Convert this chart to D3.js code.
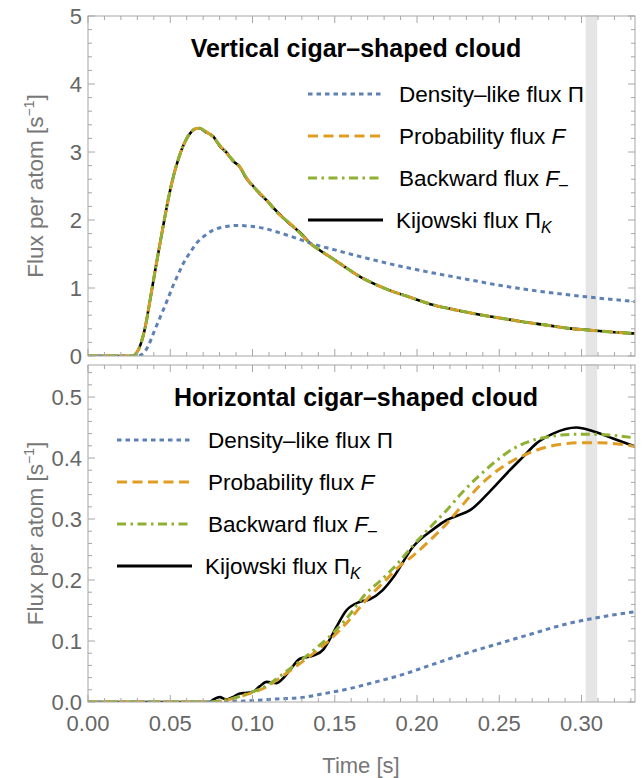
<!DOCTYPE html>
<html><head><meta charset="utf-8">
<script src="https://cdn.jsdelivr.net/npm/d3@7"></script>
<style>
body{margin:0;background:#fff;}
svg{font-family:"Liberation Sans",Arial,sans-serif;}
</style></head>
<body><svg id="c" width="643" height="778"></svg>
<script>
// ---------- DATA ----------
const xTickLabels = ["0.00","0.05","0.10","0.15","0.20","0.25","0.30"];
const xTickValues = [0,0.05,0.10,0.15,0.20,0.25,0.30];
const topYTicks = [0,1,2,3,4,5];
const botYTicks = [0,0.1,0.2,0.3,0.4,0.5];
const botYTickLabels = ["0.0","0.1","0.2","0.3","0.4","0.5"];
const seriesNames = ["Density\u2013like flux \u03A0","Probability flux F","Backward flux F\u208B","Kijowski flux \u03A0K"];
const bandRange = [0.3025, 0.3095];

// Top panel (vertical cigar)
const topT = [0,0.020,0.027,0.029,0.031,0.033,0.035,0.037,0.039,0.041,0.043,0.045,0.047,0.049,0.051,0.053,0.055,0.057,0.059,0.061,0.063,0.065,0.068,0.071,0.0761,0.080,0.0843,0.088,0.0923,0.096,0.1004,0.105,0.1086,0.1146,0.1227,0.130,0.1349,0.140,0.147,0.155,0.165,0.175,0.185,0.195,0.210,0.225,0.240,0.250,0.265,0.280,0.291,0.305,0.320,0.3325];
const topF  = [0,0,0,0.03,0.11,0.25,0.45,0.72,1.00,1.28,1.55,1.82,2.08,2.33,2.55,2.74,2.90,3.04,3.15,3.24,3.30,3.34,3.35,3.31,3.22,3.10,2.98,2.88,2.78,2.63,2.49,2.38,2.29,2.12,1.95,1.78,1.66,1.57,1.46,1.33,1.17,1.05,0.95,0.87,0.75,0.67,0.60,0.56,0.50,0.45,0.41,0.38,0.35,0.33];
const topFm = [0,0,0,0.03,0.11,0.25,0.45,0.72,1.00,1.28,1.55,1.82,2.08,2.33,2.55,2.74,2.90,3.04,3.15,3.24,3.30,3.34,3.35,3.31,3.22,3.10,2.98,2.88,2.78,2.63,2.49,2.38,2.29,2.12,1.95,1.78,1.66,1.57,1.46,1.33,1.17,1.05,0.95,0.87,0.75,0.67,0.60,0.56,0.50,0.45,0.41,0.38,0.35,0.33];
const topK  = [0,0,0,0.03,0.11,0.25,0.45,0.72,1.00,1.28,1.55,1.82,2.08,2.33,2.55,2.74,2.90,3.04,3.15,3.24,3.30,3.34,3.35,3.30,3.23,3.09,2.99,2.87,2.78,2.62,2.50,2.37,2.29,2.13,1.94,1.79,1.66,1.57,1.46,1.33,1.17,1.05,0.95,0.87,0.75,0.67,0.60,0.56,0.50,0.45,0.41,0.38,0.35,0.33];
const topPiT = [0,0.029,0.031,0.0336,0.0367,0.0397,0.043,0.0458,0.049,0.0518,0.055,0.0579,0.062,0.066,0.071,0.0761,0.083,0.0903,0.098,0.1065,0.114,0.1207,0.128,0.135,0.150,0.169,0.190,0.210,0.230,0.250,0.275,0.303,0.3325];
const topPi  = [0,0,0.005,0.04,0.15,0.33,0.52,0.68,0.87,1.04,1.21,1.36,1.52,1.66,1.77,1.85,1.90,1.92,1.91,1.88,1.83,1.78,1.72,1.66,1.56,1.44,1.32,1.22,1.13,1.04,0.95,0.87,0.80];

// Bottom panel (horizontal cigar)
const botPiT = [0,0.080,0.090,0.104,0.115,0.129,0.142,0.159,0.175,0.190,0.210,0.230,0.250,0.270,0.291,0.311,0.3325];
const botPi  = [0,0,0.001,0.003,0.005,0.007,0.013,0.022,0.033,0.044,0.062,0.080,0.096,0.112,0.128,0.139,0.148];
const botFT = [0,0.074,0.080,0.088,0.095,0.1086,0.118,0.1288,0.139,0.149,0.159,0.169,0.180,0.190,0.1977,0.2078,0.2179,0.228,0.2382,0.248,0.2584,0.268,0.2787,0.289,0.2989,0.309,0.3191,0.3325];
const botF  = [0,0,0.001,0.0055,0.011,0.025,0.042,0.063,0.084,0.107,0.135,0.167,0.197,0.224,0.240,0.265,0.292,0.324,0.355,0.378,0.396,0.408,0.418,0.423,0.425,0.425,0.424,0.419];
const botFmT = [0,0.074,0.080,0.088,0.095,0.1086,0.118,0.1288,0.139,0.149,0.159,0.169,0.1774,0.1885,0.1977,0.2078,0.2179,0.228,0.2382,0.248,0.2584,0.268,0.2787,0.289,0.2989,0.309,0.3191,0.3325];
const botFm  = [0,0,0.002,0.006,0.012,0.027,0.045,0.067,0.089,0.113,0.143,0.178,0.198,0.228,0.257,0.286,0.314,0.345,0.372,0.395,0.415,0.427,0.434,0.438,0.439,0.439,0.437,0.433];
const botKT = [0,0.074,0.0761,0.080,0.0843,0.088,0.0923,0.0965,0.1004,0.1045,0.1086,0.1146,0.119,0.1227,0.1288,0.1369,0.143,0.147,0.151,0.157,0.165,0.171,0.179,0.1855,0.1977,0.2098,0.2179,0.224,0.232,0.2442,0.2564,0.2645,0.2726,0.2827,0.2969,0.307,0.3191,0.3325];
const botK  = [0,0,0.004,0.008,0.004,0.008,0.014,0.015,0.017,0.026,0.033,0.031,0.040,0.052,0.071,0.076,0.086,0.103,0.123,0.150,0.164,0.168,0.183,0.204,0.255,0.283,0.298,0.305,0.314,0.345,0.380,0.402,0.424,0.440,0.450,0.444,0.432,0.419];

// ---------- STYLE ----------
const colors = ["#5E81B5","#E19C24","#8FB032","#000000"];
const dashes = ["4.5,4","10,5.5","9,4.5,2.5,4.5",null];
const frameColor = "#a6a6a6", tickTextColor = "#666666", labelColor = "#777777";

const svg = d3.select("#c");
const x = d3.scaleLinear().domain([0,0.3325]).range([88,635]);
const yTop = d3.scaleLinear().domain([0,5]).range([356,16]);
const yBot = d3.scaleLinear().domain([0,0.5525]).range([702,365]);

function zip(t,v){return t.map((d,i)=>[d,v[i]]);}

function panel(y, series, yTicks, yLabels, yMinor, title, legendX, legendY0, showX){
  const g = svg.append("g");
  const [y0,y1] = y.range();
  g.append("rect").attr("x",x(bandRange[0])).attr("width",x(bandRange[1])-x(bandRange[0]))
    .attr("y",y1-1).attr("height",y0-y1+1).attr("fill","#e5e5e5");
  const line = d3.line().x(d=>x(d[0])).y(d=>y(d[1])).curve(d3.curveMonotoneX);
  const clipId = "clip"+Math.round(y1);
  svg.append("clipPath").attr("id",clipId).append("rect").attr("x",88).attr("y",y1).attr("width",547).attr("height",y0-y1);
  const cg = g.append("g").attr("clip-path",`url(#${clipId})`);
  const order = [3,0,1,2];
  order.forEach(i=>{
    cg.append("path").datum(series[i]).attr("d",line).attr("fill","none")
      .attr("stroke",colors[i]).attr("stroke-width",i===3?2.6:3)
      .attr("stroke-dasharray",dashes[i]);
  });
  g.append("rect").attr("x",88).attr("y",y1).attr("width",547).attr("height",y0-y1)
    .attr("fill","none").attr("stroke",frameColor).attr("stroke-width",1);
  const xMinor = d3.range(0,0.3326,0.01);
  xMinor.forEach(v=>{
    const major = Math.abs(v/0.05 - Math.round(v/0.05))<1e-6;
    const L = major?7:4;
    g.append("line").attr("x1",x(v)).attr("x2",x(v)).attr("y1",y0).attr("y2",y0-L).attr("stroke",frameColor);
    g.append("line").attr("x1",x(v)).attr("x2",x(v)).attr("y1",y1).attr("y2",y1+L).attr("stroke",frameColor);
  });
  const ymax = y.domain()[1];
  d3.range(0,ymax+1e-9,yMinor).forEach(v=>{
    const r = v/(yMinor*5);
    const major = Math.abs(r-Math.round(r))<1e-6;
    const L = major?7:4;
    g.append("line").attr("x1",88).attr("x2",88+L).attr("y1",y(v)).attr("y2",y(v)).attr("stroke",frameColor);
    g.append("line").attr("x1",635).attr("x2",635-L).attr("y1",y(v)).attr("y2",y(v)).attr("stroke",frameColor);
  });
  yTicks.forEach((v,i)=>{
    g.append("text").attr("x",82).attr("y",y(v)).attr("dy","0.36em").attr("text-anchor","end")
      .attr("font-size",22).attr("fill",tickTextColor).text(yLabels[i]);
  });
  if(showX){
    xTickValues.forEach((v,i)=>{
      g.append("text").attr("x",x(v)).attr("y",731).attr("text-anchor","middle")
        .attr("font-size",22).attr("fill",tickTextColor).text(xTickLabels[i]);
    });
  }
  g.append("text").attr("x",356).attr("y",y1+41).attr("text-anchor","middle")
    .attr("font-size",25).attr("font-weight","bold").attr("fill","#000").text(title);
  const rowH = 42;
  for(let i=0;i<4;i++){
    const ly = legendY0 + i*rowH;
    g.append("line").attr("x1",legendX).attr("x2",legendX+75).attr("y1",ly).attr("y2",ly)
      .attr("stroke",colors[i]).attr("stroke-width",3).attr("stroke-dasharray",dashes[i]);
    const t = g.append("text").attr("x",legendX+91).attr("y",ly+8).attr("font-size",22.5).attr("fill","#000");
    if(i===0){ t.text(seriesNames[0]); }
    else if(i===1){ t.append("tspan").text("Probability flux "); t.append("tspan").attr("font-style","italic").text("F"); }
    else if(i===2){ t.append("tspan").text("Backward flux "); t.append("tspan").attr("font-style","italic").text("F");
      t.append("tspan").attr("font-size",16).attr("dy",4).text("\u2013"); }
    else { t.attr("x",legendX+88); t.append("tspan").text("Kijowski flux \u03A0");
      t.append("tspan").attr("font-style","italic").attr("font-size",16).attr("dy",5).text("K"); }
  }
  const cy = (y0+y1)/2;
  const yl = g.append("text").attr("transform",`translate(43,${cy}) rotate(-90)`).attr("text-anchor","middle")
    .attr("font-size",22.5).attr("fill",labelColor);
  yl.append("tspan").text("Flux per atom [s");
  yl.append("tspan").attr("font-size",14).attr("dy",-9).text("\u22121");
  yl.append("tspan").attr("dy",9).text("]");
}

panel(yTop, [zip(topPiT,topPi), zip(topT,topF), zip(topT,topFm), zip(topT,topK)],
  topYTicks, topYTicks.map(String), 0.2, "Vertical cigar\u2013shaped cloud", 308, 94, false);
panel(yBot, [zip(botPiT,botPi), zip(botFT,botF), zip(botFmT,botFm), zip(botKT,botK)],
  botYTicks, botYTickLabels, 0.02, "Horizontal cigar\u2013shaped cloud", 117, 440, true);

svg.append("text").attr("x",361).attr("y",773).attr("text-anchor","middle")
  .attr("font-size",22).attr("fill",labelColor).text("Time [s]");
</script></body></html>
